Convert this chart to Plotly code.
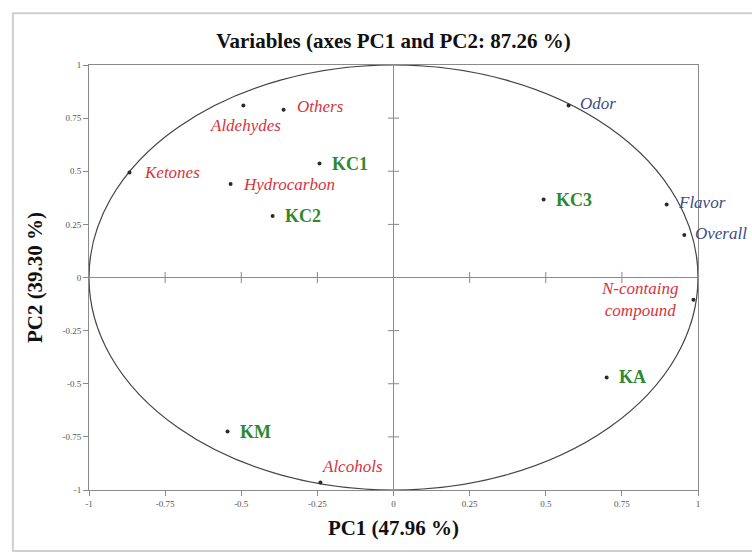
import plotly.graph_objects as go

# Variables (active)
var_red_names = ["Ketones", "Aldehydes", "Others", "Hydrocarbon", "Alcohols", "N-containg<br>compound"]
var_red_x = [-0.867, -0.493, -0.361, -0.535, -0.24, 0.985]
var_red_y = [0.494, 0.81, 0.79, 0.44, -0.965, -0.105]

var_blue_names = ["Odor", "Flavor", "Overall"]
var_blue_x = [0.575, 0.897, 0.955]
var_blue_y = [0.81, 0.344, 0.20]

sup_names = ["KC1", "KC2", "KC3", "KA", "KM"]
sup_x = [-0.243, -0.397, 0.493, 0.70, -0.545]
sup_y = [0.536, 0.29, 0.367, -0.47, -0.725]

tick_vals = [-1, -0.75, -0.5, -0.25, 0, 0.25, 0.5, 0.75, 1]
tick_text = ["-1", "-0.75", "-0.5", "-0.25", "0", "0.25", "0.5", "0.75", "1"]

SERIF = "Liberation Serif, Times New Roman, serif"
RED = "#d8333d"
BLUE = "#3b4c86"
GREEN = "#2f8a2f"

fig = go.Figure()

# crossing tick marks on the zero lines
inner_ticks = [v for v in tick_vals if v not in (-1, 0, 1)]
fig.add_trace(go.Scatter(x=inner_ticks, y=[0]*len(inner_ticks), mode="markers",
                         marker=dict(symbol="line-ns", size=8, line=dict(color="#888", width=1)),
                         hoverinfo="skip", showlegend=False))
fig.add_trace(go.Scatter(x=[0]*len(inner_ticks), y=inner_ticks, mode="markers",
                         marker=dict(symbol="line-ew", size=8, line=dict(color="#888", width=1)),
                         hoverinfo="skip", showlegend=False))

all_x = var_red_x + var_blue_x + sup_x
all_y = var_red_y + var_blue_y + sup_y
fig.add_trace(go.Scatter(x=all_x, y=all_y, mode="markers",
                         marker=dict(size=4, color="#2a2a2a"), showlegend=False))

pos_red = {"Ketones": ("left", 12, 0),
           "Aldehydes": ("center", 2, -20),
           "Others": ("left", 11, 3),
           "Hydrocarbon": ("left", 10, 0),
           "Alcohols": ("left", 0, 16),
           "N-containg<br>compound": ("right", -12, 0)}
for n, x, y in zip(var_red_names, var_red_x, var_red_y):
    xa, xs, ys = pos_red[n]
    fig.add_annotation(x=x, y=y, text=n, showarrow=False, xanchor=xa, yanchor="middle",
                       xshift=xs, yshift=ys, align="center",
                       font=dict(family=SERIF, size=17, color=RED, style="italic"))
for n, x, y in zip(var_blue_names, var_blue_x, var_blue_y):
    fig.add_annotation(x=x, y=y, text=n, showarrow=False, xanchor="left", yanchor="middle",
                       xshift=9, yshift=2,
                       font=dict(family=SERIF, size=17, color=BLUE, style="italic"))
for n, x, y in zip(sup_names, sup_x, sup_y):
    fig.add_annotation(x=x, y=y, text=n, showarrow=False, xanchor="left", yanchor="middle",
                       xshift=10, yshift=0,
                       font=dict(family=SERIF, size=18, color=GREEN, weight="bold"))

fig.add_shape(type="circle", xref="x", yref="y", x0=-1, y0=-1, x1=1, y1=1,
              line=dict(color="#444", width=1.2), layer="below")
fig.add_shape(type="rect", xref="paper", yref="paper", x0=-0.125, y0=-0.1435, x1=1.2, y1=1.122,
              line=dict(color="#cfcfcf", width=2))

axis_common = dict(range=[-1, 1], tickvals=tick_vals, ticktext=tick_text,
                   showgrid=False, zeroline=True, zerolinecolor="#8a8a8a", zerolinewidth=1,
                   showline=True, linecolor="#8a8a8a", linewidth=1, mirror=True,
                   ticks="outside", ticklen=5, tickcolor="#8a8a8a",
                   tickfont=dict(family=SERIF, size=9, color="#555"))

fig.update_layout(
    width=752, height=554,
    margin=dict(l=89, r=54, t=65, b=64),
    paper_bgcolor="white", plot_bgcolor="white",
    title=dict(text="<b>Variables (axes PC1 and PC2: 87.26 %)</b>", x=393.5 / 752,
               xanchor="center", y=1 - 41 / 554, yanchor="middle",
               font=dict(family=SERIF, size=21, color="#111")),
    xaxis=dict(axis_common, title=dict(text="<b>PC1 (47.96 %)</b>", standoff=12,
                                       font=dict(family=SERIF, size=21, color="#111"))),
    yaxis=dict(axis_common, title=dict(text="<b>PC2 (39.30 %)</b>", standoff=14,
                                       font=dict(family=SERIF, size=21, color="#111"))),
)

fig.write_html("out.html")
